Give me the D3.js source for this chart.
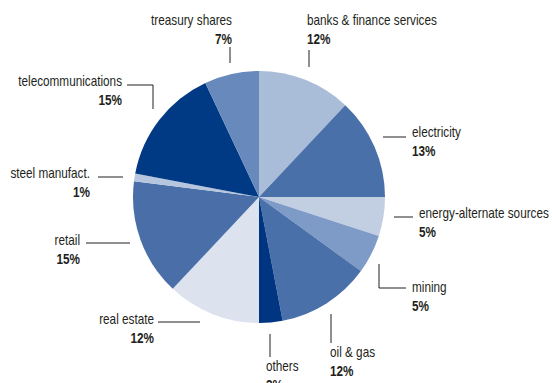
<!DOCTYPE html>
<html>
<head>
<meta charset="utf-8">
<script src="https://cdn.jsdelivr.net/npm/d3@7"></script>
<style>
html,body{margin:0;padding:0;background:#fff;}
svg{display:block;}
text{font-family:"Liberation Sans Narrow","Arial Narrow","Liberation Sans",sans-serif;fill:#231f20;}
</style>
</head>
<body>
<svg id="chart" width="552" height="383"></svg>
<script>
const categories = ["banks & finance services","electricity","energy-alternate sources","mining","oil & gas","others","real estate","retail","steel manufact.","telecommunications","treasury shares"];
const values = [12,13,5,5,12,3,12,15,1,15,7];
const sliceColors = ["#a9bdd8","#4a70a9","#c2cfe3","#7e9ac6","#4a70a9","#003581","#dce3ef","#4a6fa8","#b6c6de","#003984","#6889bb"];

// label layout: anchor, text x, name baseline, leader polyline
const labelLayout = [
  {a:"start", x:307, y:25, line:[[309,50],[309,67]]},
  {a:"start", x:412, y:137, line:[[383,137],[406,137]]},
  {a:"start", x:419, y:218, line:[[394,217],[413,217]]},
  {a:"start", x:412, y:292, line:[[379,264],[379,288],[406,288]]},
  {a:"start", x:330, y:357, line:[[331,314],[331,343]]},
  {a:"start", x:266, y:371, line:[[270,334],[270,357]]},
  {a:"end", x:154, y:324, line:[[158,322],[200,322]]},
  {a:"end", x:80, y:245, line:[[86,243],[130,243]]},
  {a:"end", x:90, y:178, line:[[98,177],[123,177]]},
  {a:"end", x:122, y:86, line:[[127,85],[153,85],[153,109]]},
  {a:"end", x:232, y:25, line:[[230,47],[230,63]]}
];

const svg = d3.select("#chart");
const cx = 259, cy = 197, r = 126;
const data = categories.map((c,i)=>({name:c, value:values[i], color:sliceColors[i]}));
const pie = d3.pie().value(d=>d.value).sort(null);
const arc = d3.arc().innerRadius(0).outerRadius(r);
const g = svg.append("g").attr("transform",`translate(${cx},${cy})`);
g.selectAll("path").data(pie(data)).join("path")
  .attr("d",arc).attr("fill",d=>d.data.color);

const condense = 0.84;
const lg = svg.append("g");
data.forEach((d,i)=>{
  const L = labelLayout[i];
  lg.append("polyline").attr("points",L.line.map(p=>p.join(",")).join(" "))
    .attr("fill","none").attr("stroke","#231f20").attr("stroke-width",1);
  const tg = lg.append("g").attr("transform",`translate(${L.x},${L.y}) scale(${condense},1)`);
  tg.append("text").attr("x",0).attr("y",0).attr("text-anchor",L.a)
    .attr("font-size",14).text(d.name);
  tg.append("text").attr("x",0).attr("y",19).attr("text-anchor",L.a)
    .attr("font-size",14).attr("font-weight","bold").text(d.value+"%");
});
</script>
</body>
</html>
